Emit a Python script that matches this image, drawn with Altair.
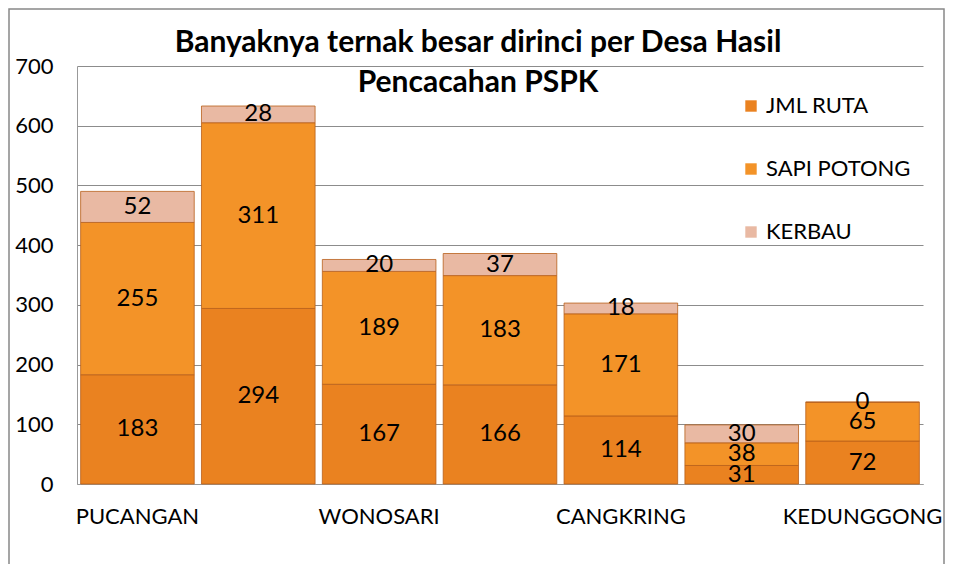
import altair as alt
import pandas as pd

desa = ["PUCANGAN", "DESA 2", "WONOSARI", "DESA 4", "CANGKRING", "DESA 6", "KEDUNGGONG"]
shown = ["PUCANGAN", "WONOSARI", "CANGKRING", "KEDUNGGONG"]
series = ["JML RUTA", "SAPI POTONG", "KERBAU"]
jml_ruta = [183, 294, 167, 166, 114, 31, 72]
sapi_potong = [255, 311, 189, 183, 171, 38, 65]
kerbau = [52, 28, 20, 37, 18, 30, 0]
colors = ["#EA8220", "#F39328", "#E9B9A3"]

rows = []
for i, d in enumerate(desa):
    for k, (s, vals) in enumerate(zip(series, [jml_ruta, sapi_potong, kerbau])):
        rows.append({"desa": d, "seri": s, "ord": k, "nilai": vals[i]})
df = pd.DataFrame(rows)

FONT = "Lato"

x = alt.X("desa:N", sort=desa, title=None,
          scale=alt.Scale(paddingInner=0.06, paddingOuter=0.03),
          axis=alt.Axis(labelAngle=0, labelFontSize=22, labelFont=FONT, labelColor="#000",
                        ticks=False, domainColor="#999", labelPadding=22,
                        labelExpr="indexof(" + str(shown) + ", datum.value) >= 0 ? datum.value : ''"))

base = alt.Chart(df).transform_stack(
    stack="nilai", groupby=["desa"], as_=["y0", "y1"],
    sort=[alt.SortField("ord", order="ascending")]
).transform_calculate(mid="(datum.y0 + datum.y1) / 2")

bars = base.mark_bar(stroke="#B8601A", strokeWidth=0.8).encode(
    x=x,
    y=alt.Y("y0:Q", title=None,
            scale=alt.Scale(domain=[0, 700]),
            axis=alt.Axis(values=[0, 100, 200, 300, 400, 500, 600, 700], labelFontSize=22,
                          labelFont=FONT, labelColor="#000", ticks=False, labelPadding=24,
                          gridColor="#8c8c8c", gridWidth=1.2, domainColor="#999")),
    y2="y1:Q",
    color=alt.Color("seri:N", sort=series,
                    scale=alt.Scale(domain=series, range=colors),
                    legend=alt.Legend(title=None, orient="none", legendX=663, legendY=29,
                                      symbolType="square", symbolSize=130, symbolStrokeWidth=0,
                                      labelFontSize=22, labelFont=FONT, labelColor="#000",
                                      rowPadding=41, labelOffset=4)),
)

labels = base.mark_text(fontSize=24, font=FONT, color="#000").encode(
    x=alt.X("desa:N", sort=desa),
    y=alt.Y("mid:Q"),
    text="nilai:Q",
)

border = alt.Chart(pd.DataFrame({"a": [0]})).mark_rect(
    fill=None, stroke="#888", strokeWidth=1.5
).encode(x=alt.value(-68), x2=alt.value(867), y=alt.value(-57), y2=alt.value(520))

chart = alt.layer(border, bars, labels).properties(
    width=846, height=418,
    autosize="none",
    padding={"left": 69, "top": 58, "right": 22, "bottom": 80},
    title=alt.TitleParams(["Banyaknya ternak besar dirinci per Desa Hasil", "Pencacahan PSPK"],
                          font=FONT, fontSize=30, fontWeight="bold", color="#000",
                          anchor="middle", dx=-22, offset=-90, lineHeight=40),
).configure_view(stroke=None)

chart.save("out.html", embed_options={"renderer": "svg", "actions": False})
